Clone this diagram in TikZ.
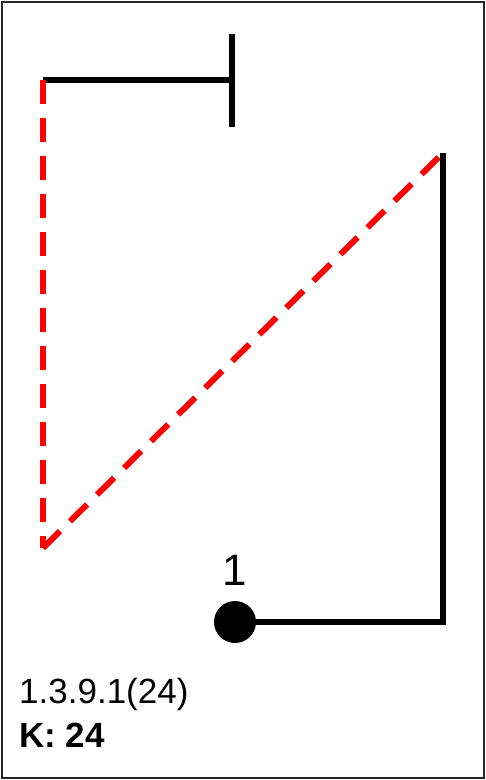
\documentclass[tikz,border=0pt]{standalone}
\usepackage{fontspec}
\setmainfont{Liberation Sans}
\begin{document}
\begin{tikzpicture}[x=1pt,y=-1pt,
  blk/.style={line width=6pt, black},
  reddash/.style={line width=6pt, red, dash pattern=on 24pt off 14pt},
  lbl/.style={inner sep=0pt, anchor=base west}]
\useasboundingbox (0,0) rectangle (486,780);
\draw[line width=2.5pt, black!85] (2,2) rectangle (484,778);
\coordinate (a) at (43,80);
\coordinate (b) at (232,80);
\coordinate (bt) at (232,34);
\coordinate (bb) at (232,127);
\coordinate (c) at (43,548);
\coordinate (d) at (443,153);
\coordinate (e) at (443,622);
\node[circle, fill=black, minimum size=42pt, inner sep=0pt] (n1) at (235,622) {};
\draw[blk] (a) -- (b);
\draw[blk] (bt) -- (bb);
\draw[reddash] (a) -- (c);
\draw[reddash] (c) -- (d);
\draw[blk] (d) -- (e) -- (n1.center);
\node[inner sep=0pt, anchor=base, font=\fontsize{44}{48}\selectfont] (l1) at (235,585) {1};
\node[lbl, font=\fontsize{35}{40}\selectfont] (t1) at (19,703) {1.3.9.1(24)};
\node[lbl, font=\fontsize{35}{40}\selectfont\bfseries] (t2) at (19,747) {K: 24};
\end{tikzpicture}
\end{document}
